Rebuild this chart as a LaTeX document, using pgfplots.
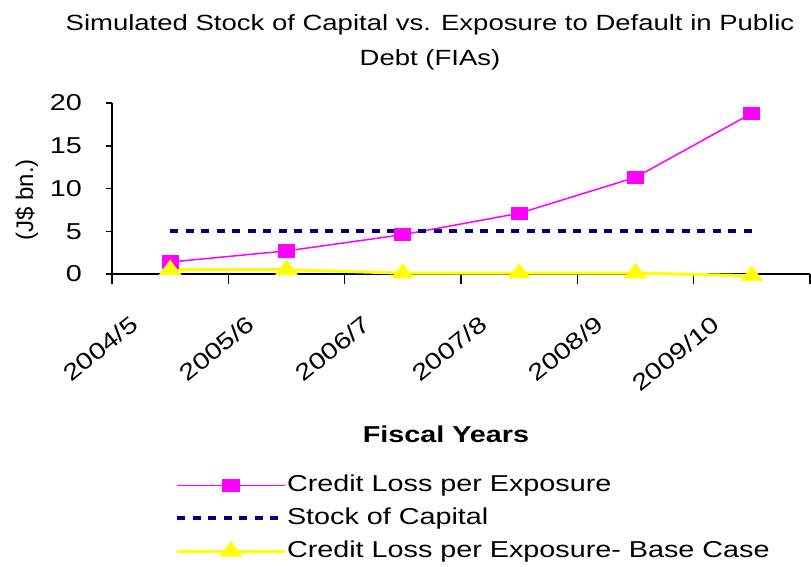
\documentclass[border=0pt]{standalone}
\usepackage{pgfplots}
\pgfplotsset{compat=1.18}
\usepackage{fontspec}
\setmainfont{Liberation Sans}[FakeStretch=1.25]
\newfontfamily\plainsans{Liberation Sans}
\definecolor{pinkline}{RGB}{255,0,255}
\definecolor{navyline}{RGB}{0,0,128}
\definecolor{yellowline}{RGB}{255,255,0}
\begin{document}
\begin{tikzpicture}
\path[use as bounding box] (-112bp,-293bp) rectangle (699bp,274bp);
\begin{axis}[
  scale only axis, width=698bp, height=171bp,
  xmin=-0.5, xmax=5.5, ymin=0, ymax=20,
  axis x line=bottom, axis y line=left,
  axis line style={-, line width=1.5bp, black},
  clip=false,
  tick align=outside,
  xtick={0,...,5},
  xticklabels={2004/5,2005/6,2006/7,2007/8,2008/9,2009/10},
  major x tick style={draw=none},
  minor xtick={-0.5,0.5,...,5.5},
  minor tick length=10bp,
  minor tick style={line width=1.5bp, black},
  ytick={0,5,10,15,20},
  major tick length=6bp,
  major y tick style={line width=1.5bp, black},
  /pgf/number format/assume math mode=true,
  yticklabel style={font=\fontsize{23bp}{23bp}\selectfont, anchor=east, inner sep=0pt, xshift=-24bp},
  xticklabel style={font=\fontsize{23bp}{23bp}\selectfont, inner sep=0pt, anchor=north east, xshift=-41bp, yshift=-34bp, rotate=39},
  title={Simulated Stock of Capital vs. Exposure to Default in Public\\Debt (FIAs)},
  title style={at={(axis description cs:0.4556,1.318)}, anchor=center, align=center, font=\fontsize{22bp}{35bp}\selectfont},
  xlabel={Fiscal Years},
  xlabel style={at={(axis description cs:0.4785,-0.936)}, anchor=center, font=\bfseries\fontsize{23bp}{23bp}\selectfont},
  ylabel={(J\$ bn.)},
  ylabel style={at={(axis description cs:-0.122,0.433)}, anchor=center, font=\plainsans\fontsize{24bp}{24bp}\selectfont},
  legend style={at={(axis description cs:0.09,-1.17)}, anchor=north west, draw=none, fill=none,
    font=\fontsize{23bp}{23bp}\selectfont, row sep=11bp, inner sep=0pt,
    nodes={inner sep=0pt, text height=17bp, text depth=5bp},
    /tikz/every even column/.append style={column sep=4bp}},
  legend cell align=left,
  legend image code/.code={\draw[mark repeat=2, mark phase=2, #1] plot coordinates {(0bp,0bp) (54bp,0bp) (108bp,0bp)};},
]
\addplot[color=pinkline, line width=1.5bp, mark=square*, mark size=6bp, mark options={xscale=1.3, solid}]
  coordinates {(0,1.4) (1,2.7) (2,4.6) (3,7.1) (4,11.3) (5,18.8)};
\addlegendentry{Credit Loss per Exposure}
\addplot[color=navyline, line width=4bp, dash pattern=on 8bp off 7.5bp]
  coordinates {(0,5) (1,5) (2,5) (3,5) (4,5) (5,5)};
\addlegendentry{Stock of Capital}
\addplot[color=yellowline, line width=3bp, mark=triangle*, mark size=7.5bp, mark options={xscale=1.3, solid}]
  coordinates {(0,0.5) (1,0.5) (2,0.1) (3,0.1) (4,0.1) (5,-0.2)};
\addlegendentry{Credit Loss per Exposure- Base Case}
\end{axis}
\end{tikzpicture}
\end{document}
